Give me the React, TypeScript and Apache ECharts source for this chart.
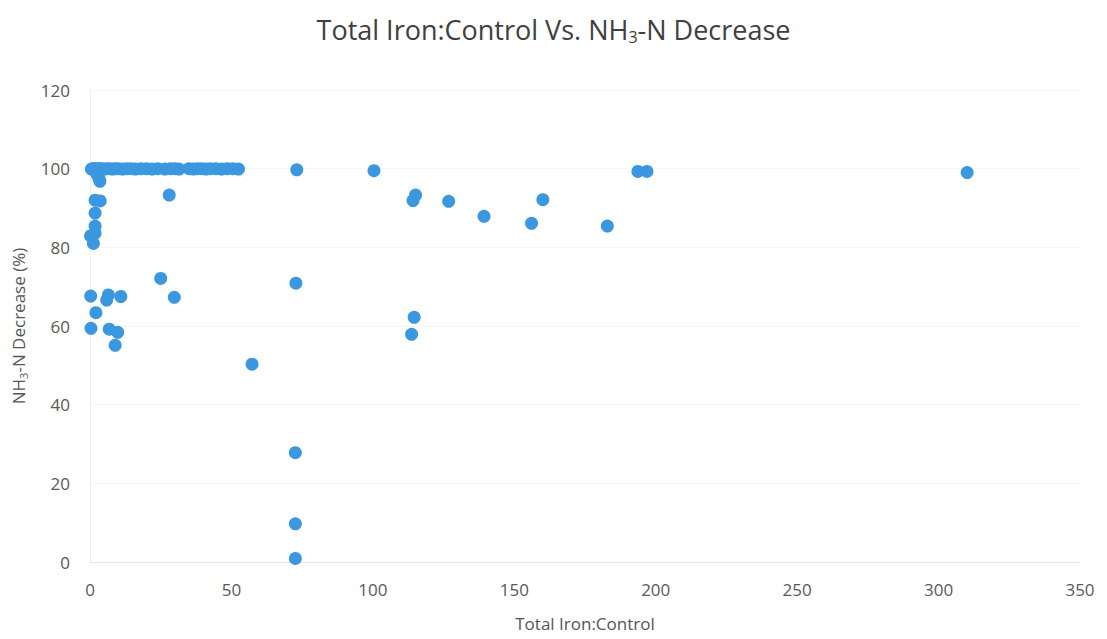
import React, { useEffect, useRef } from "react";
import * as echarts from "echarts";

// Total iron : control ratio (x) against NH3-N decrease in percent (y)
const ironRatio: number[] = [
  // plateau at ~100 %
  0.5, 1, 1.5, 2, 2.5, 3, 3.5, 4, 5, 6, 7, 8, 9, 10, 11.5, 13, 14.5, 16, 18, 20, 22, 24, 26.5, 28.5, 30, 31.5,
  35, 36.5, 38, 39.5, 41, 42.5, 44.5, 46.5, 48.5, 50.5, 52.5,
  73.1, 100.4, 193.7, 196.9, 310.1,
  // near-vertical column at low ratio
  2.5, 3.2, 3.5, 1.8, 3.6, 1.8, 1.8, 0.2, 1.8, 1.2,
  28, 115.1, 114.2, 126.8, 139.3, 156.1, 160.1, 182.9,
  // lower cluster
  0.25, 6.5, 5.9, 10.9, 2.1, 0.35, 6.8, 9.8, 8.9, 25, 29.8,
  57.3, 72.8, 114.6, 113.7, 72.6, 72.6, 72.6,
];
const nh3Decrease: number[] = [
  99.9, 100, 99.9, 100, 100, 99.9, 100, 100, 99.9, 100, 100, 99.9, 100, 100, 99.9, 100, 100, 99.9, 100, 100, 99.9, 100, 99.9, 100, 100, 99.9,
  100, 99.9, 100, 100, 99.9, 100, 100, 99.9, 100, 100, 99.9,
  99.7, 99.5, 99.3, 99.3, 99.0,
  98.5, 97.5, 96.8, 92.0, 91.8, 88.7, 85.4, 82.9, 83.6, 81.0,
  93.3, 93.3, 91.9, 91.7, 87.9, 86.1, 92.1, 85.4,
  67.6, 67.9, 66.6, 67.5, 63.4, 59.4, 59.2, 58.4, 55.1, 72.1, 67.3,
  50.3, 70.9, 62.2, 57.9, 27.8, 9.7, 0.9,
];

const xTicks = { min: 0, max: 350, interval: 50 };
const yTicks = { min: 0, max: 120, interval: 20 };

const chartTitle = "Total Iron:Control Vs. NH{sub|3}-N Decrease";
const xAxisTitle = "Total Iron:Control";
const yAxisTitle = "{a|NH}{sub|3}{a|-N Decrease (%)}";

const FONT = "'Open Sans', 'Liberation Sans', sans-serif";

export default function App() {
  const ref = useRef<HTMLDivElement>(null);

  useEffect(() => {
    if (!ref.current) return;
    const chart = echarts.init(ref.current, undefined, { renderer: "svg" });
    const points = ironRatio.map((x, i) => [x, nh3Decrease[i]]);

    chart.setOption({
      animation: false,
      backgroundColor: "#ffffff",
      title: {
        text: chartTitle,
        left: "center",
        top: 8,
        textStyle: {
          fontFamily: FONT,
          fontSize: 27,
          fontWeight: "normal",
          color: "#404040",
          rich: {
            sub: {
              fontFamily: FONT,
              fontSize: 16,
              color: "#404040",
              padding: [16, 0, 0, 0],
            },
          },
        },
      },
      grid: {
        left: 90,
        right: 27,
        top: 90,
        bottom: 77,
        containLabel: false,
        outerBoundsMode: "none",
      },
      xAxis: {
        type: "value",
        min: xTicks.min,
        max: xTicks.max,
        interval: xTicks.interval,
        name: xAxisTitle,
        nameLocation: "middle",
        nameGap: 53,
        nameTextStyle: { fontFamily: FONT, fontSize: 17, color: "#555555" },
        axisLine: { show: true, lineStyle: { color: "#e6e6e6", width: 1 } },
        axisTick: { show: false },
        splitLine: { show: false },
        axisLabel: { fontFamily: FONT, fontSize: 17, color: "#595959", margin: 19 },
      },
      yAxis: {
        type: "value",
        min: yTicks.min,
        max: yTicks.max,
        interval: yTicks.interval,
        name: yAxisTitle,
        nameLocation: "middle",
        nameGap: 61,
        nameRotate: 90,
        nameTextStyle: {
          fontFamily: FONT,
          fontSize: 17,
          color: "#555555",
          rich: {
            a: { fontFamily: FONT, fontSize: 17, color: "#555555" },
            sub: { fontFamily: FONT, fontSize: 11, color: "#555555", padding: [10, 0, 0, 0] },
          },
        },
        axisLine: { show: true, lineStyle: { color: "#eeeeee", width: 1 } },
        axisTick: { show: false },
        splitLine: { show: true, lineStyle: { color: "#f6f6f6", width: 1 } },
        axisLabel: { fontFamily: FONT, fontSize: 17, color: "#595959", margin: 20 },
      },
      series: [
        {
          type: "scatter",
          data: points,
          symbol: "circle",
          symbolSize: 13,
          itemStyle: { color: "#3b98e0", opacity: 1 },
        },
      ],
    });

    return () => chart.dispose();
  }, []);

  return (
    <div
      ref={ref}
      style={{ position: "fixed", left: 0, top: 0, width: 1107, height: 639 }}
    />
  );
}
